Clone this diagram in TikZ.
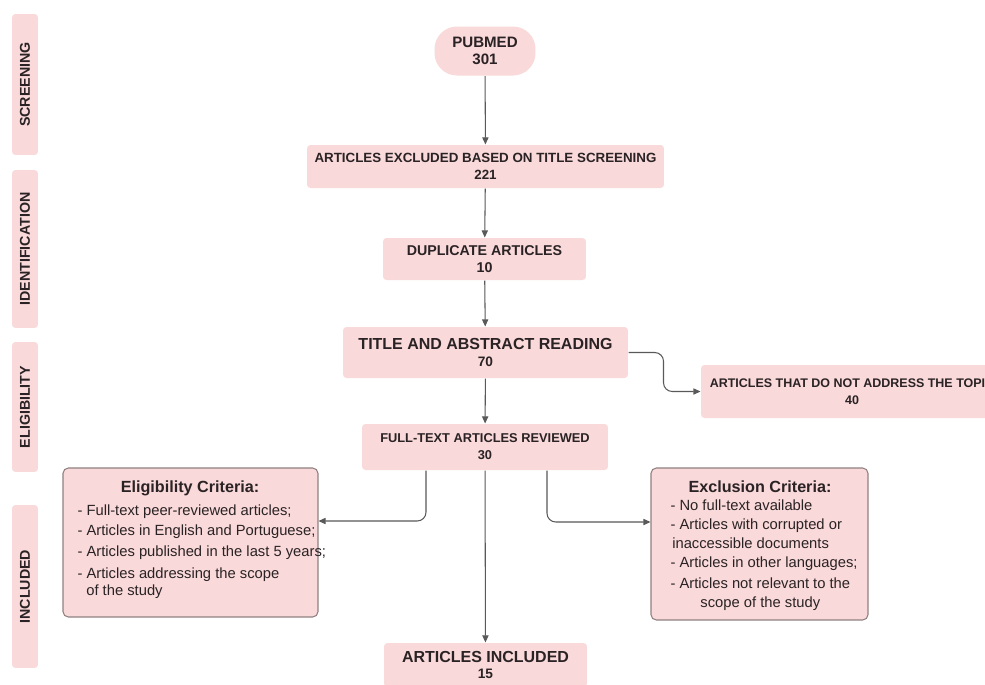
\documentclass[tikz,border=0pt]{standalone}
\usepackage{fontspec}
\setmainfont{Liberation Sans}
\usetikzlibrary{arrows.meta}
\definecolor{boxpink}{HTML}{F9D9D9}
\definecolor{boxline}{HTML}{8F8080}
\definecolor{txt}{HTML}{2A2224}

\begin{document}
\begin{tikzpicture}[x=0.02cm,y=-0.02cm,line width=0.6pt,
  box/.style={fill=boxpink,rounded corners=2pt,inner sep=0pt,align=center,text=txt,
    font=\bfseries\fontsize{7.6}{9.8}\selectfont},
  bigbox/.style={box,font=\bfseries\fontsize{9.1}{10.5}\selectfont},
  side/.style={box,rotate=90,minimum height=0.52cm,font=\bfseries\fontsize{8.1}{9}\selectfont},
  crit/.style={fill=boxpink,draw=boxline,rounded corners=3pt,inner sep=0pt,text=txt},
  critt/.style={text=txt,font=\bfseries\fontsize{9.2}{11}\selectfont},
  critl/.style={text=txt,font=\fontsize{8.4}{9.8}\selectfont,align=left,anchor=north west,inner sep=0pt},
  arr/.style={draw=black!65,-{Triangle[length=4pt,width=3.5pt]}}]
 \useasboundingbox[fill=white](0,0) rectangle (985,684);
 % side labels
 \node[side,minimum width=2.82cm] (scr) at (25,84.5) {SCREENING};
 \node[side,minimum width=3.16cm] (idf) at (25,249) {IDENTIFICATION};
 \node[side,minimum width=2.60cm] (eli) at (25,407) {ELIGIBILITY};
 \node[side,minimum width=3.26cm] (inc) at (25,586.5) {INCLUDED};
 % main column
 \node[box,minimum width=2.02cm,minimum height=0.98cm,rounded corners=0.45cm,
   font=\bfseries\fontsize{8.6}{10}\selectfont] (pubmed) at (485,51) {PUBMED\\301};
 \node[box,minimum width=7.14cm,minimum height=0.86cm] (excl) at (485.5,166.5) {ARTICLES EXCLUDED BASED ON TITLE SCREENING\\221};
 \node[box,minimum width=4.06cm,minimum height=0.84cm,font=\bfseries\fontsize{8.1}{10}\selectfont] (dup) at (484.5,259) {DUPLICATE ARTICLES\\10};
 \node[bigbox,minimum width=5.70cm,minimum height=1.02cm] (tiab) at (485.5,352.5) {TITLE AND ABSTRACT READING\\[-1pt]{\fontsize{7.8}{9}\selectfont 70}};
 \node[box,minimum width=6.04cm,minimum height=1.06cm,font=\bfseries\fontsize{7.1}{9.8}\selectfont] (notopic) at (852,391.5) {ARTICLES THAT DO NOT ADDRESS THE TOPIC\\40};
 \node[box,minimum width=4.92cm,minimum height=0.92cm,font=\bfseries\fontsize{7.3}{9.6}\selectfont] (ft) at (485,447) {FULL-TEXT ARTICLES REVIEWED\\30};
 \node[bigbox,minimum width=4.06cm,minimum height=0.88cm] (incl) at (485.5,665) {ARTICLES INCLUDED\\[-1pt]{\fontsize{7.8}{9}\selectfont 15}};
 % criteria
 \node[crit,minimum width=5.10cm,minimum height=2.98cm] (elig) at (190.5,542.5) {};
 \node[crit,minimum width=4.34cm,minimum height=3.04cm] (exc) at (759.5,544) {};
 \node[critt] (eligt) at (190,488) {Eligibility Criteria:};
 \node[critl] (eligl) at (77,504)
  {- Full-text peer-reviewed articles;\\[2pt]
   - Articles in English and Portuguese;\\[2pt]
   - Articles published in the last 5 years;\\[2.5pt]
   - Articles addressing the scope\\
   \hspace*{5pt}of the study};
 \node[critt] (exct) at (760,487) {Exclusion Criteria:};
 \node[critl] (excll) at (670,499)
  {- No full-text available\\[1pt]
   - Articles with corrupted or\\[1pt]
   \hspace*{1pt}inaccessible documents\\[1pt]
   - Articles in other languages;\\[2.5pt]
   - Articles not relevant to the\\[1pt]
   \hspace*{17pt}scope of the study};
 % connectors
 \draw[arr] (pubmed) -- (excl);
 \draw[arr] (excl) -- (dup);
 \draw[arr] (dup) -- (tiab);
 \draw[arr] (tiab) -- (ft);
 \draw[arr] (ft) -- (incl);
 \draw[arr,rounded corners=5pt] (tiab.east) -- ++(35,0) |- (notopic.west);
 \draw[arr,rounded corners=5pt] ([xshift=-1.18cm]ft.south) |- ([yshift=0.43cm]elig.east);
 \draw[arr,rounded corners=5pt] ([xshift=1.24cm]ft.south) |- ([yshift=0.44cm]exc.west);
\end{tikzpicture}
\end{document}
